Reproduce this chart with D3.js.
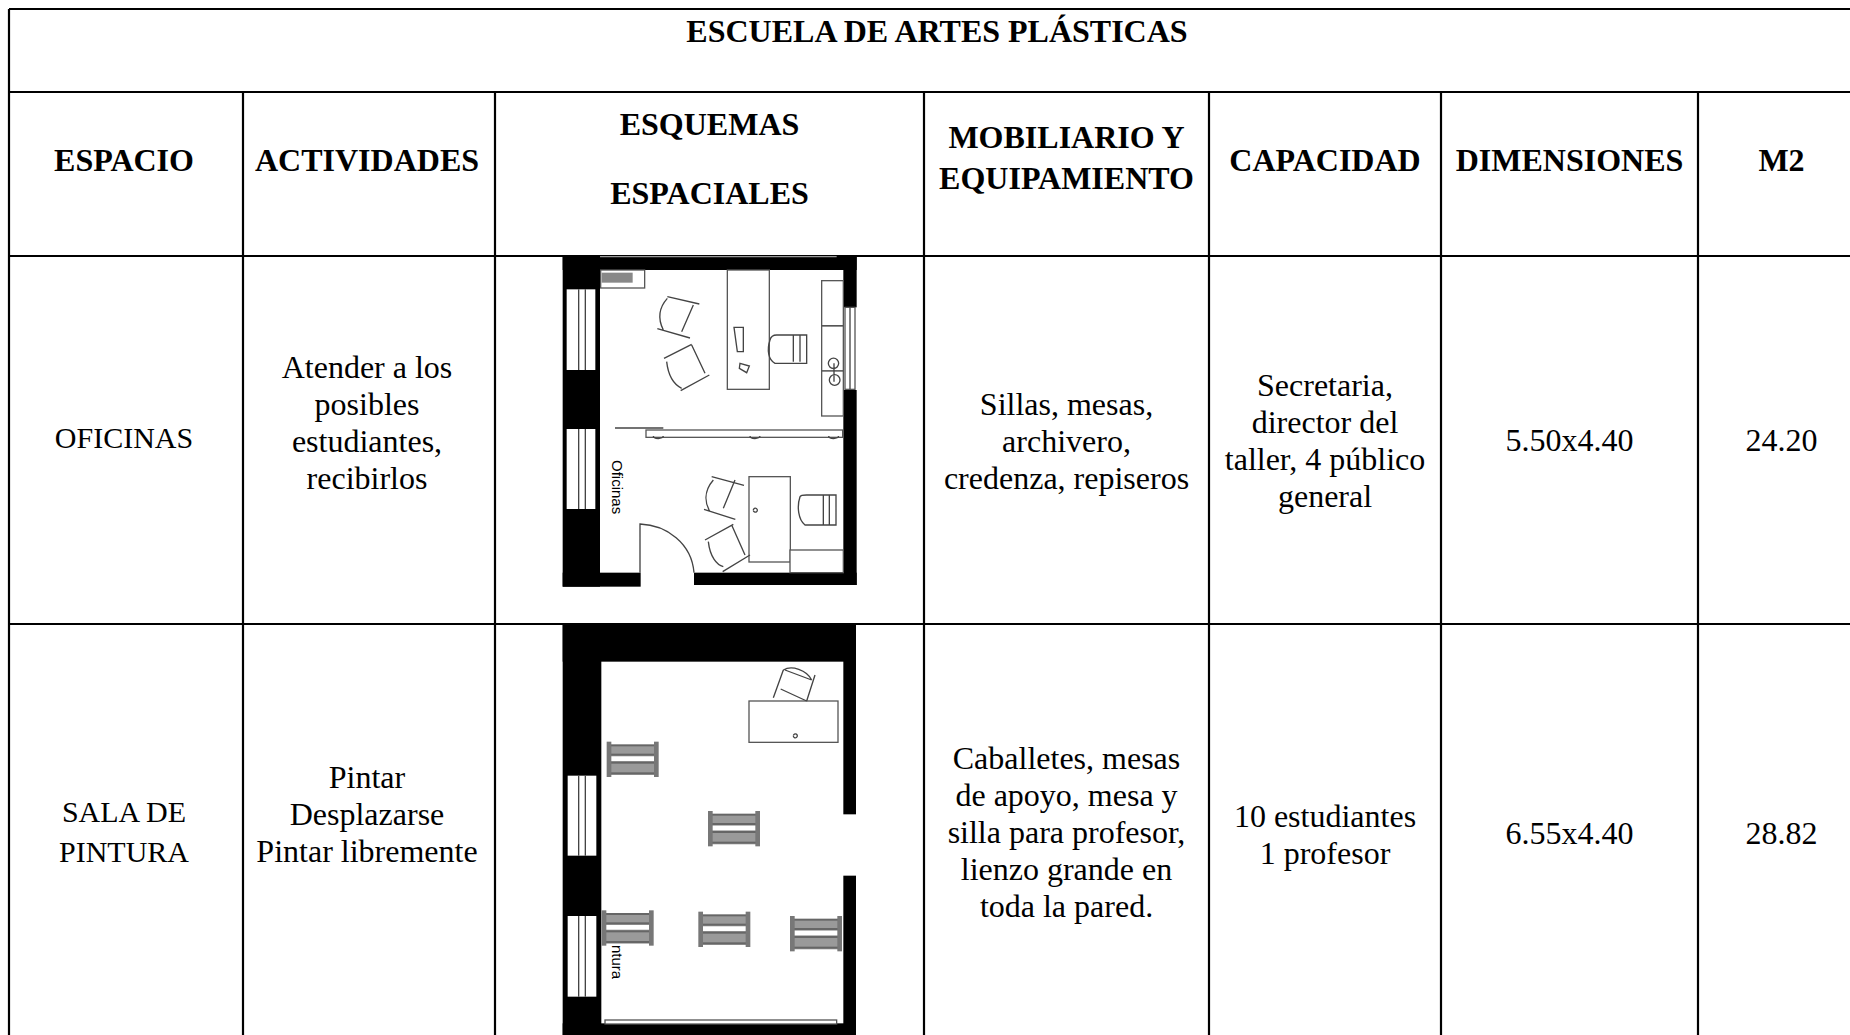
<!DOCTYPE html>
<html><head><meta charset="utf-8"><script src="https://cdn.jsdelivr.net/npm/d3@7"></script>
<style>html,body{margin:0;background:#fff;overflow:hidden}svg{display:block}text{font-family:"Liberation Serif",serif;fill:#000}</style></head>
<body><svg id="c" width="1850" height="1035"></svg>
<script>
const columnEdges=[9,243,495,924,1209,1441,1698,1865];
const rowEdges=[9,92,256,624,1040];
const title="ESCUELA DE ARTES PLÁSTICAS";
const headers=[["ESPACIO"],["ACTIVIDADES"],["ESQUEMAS","ESPACIALES"],["MOBILIARIO Y","EQUIPAMIENTO"],["CAPACIDAD"],["DIMENSIONES"],["M2"]];
const rowOne=[["OFICINAS"],["Atender a los","posibles","estudiantes,","recibirlos"],[],["Sillas, mesas,","archivero,","credenza, repiseros"],["Secretaria,","director del","taller, 4 público","general"],["5.50x4.40"],["24.20"]];
const rowTwo=[["SALA DE","PINTURA"],["Pintar","Desplazarse","Pintar libremente"],[],["Caballetes, mesas","de apoyo, mesa y","silla para profesor,","lienzo grande en","toda la pared."],["10 estudiantes","1 profesor"],["6.55x4.40"],["28.82"]];
const headerCenters=[160,160,159,158,160,160,160], headerGaps=[0,0,69,41,0,0,0];
const rowOneCenters=[438,423,441,441,441,440,440], rowTwoCenters=[832,814.5,832,832,834.5,833,833];
const bodySizes=[30,32,0,32,32,32,32], columnShift=[-2,-2,0,0,0,0,0];
// plan drawings, in plan units
const planOneSolid=[[38,18,882,42],[38,18,112,992],[880,18,40,154],[880,420,40,585],[38,968,234,42],[432,968,488,37]];
const planOneWindows=[[50,118,86,242],[50,537,86,240]];
const planOneBoxes=[[152,60,132,54],[532,60,126,358],[815,92,65,135],[815,228,65,135],[815,363,65,135],[597,680,124,256],[720,900,160,68],[288,540,590,22],[885,172,30,246]];
const planOneLines=["M86 118V360M106 118V360","M86 537V777M106 537V777","M195 534H340","M270 968V822C350 825 425 880 432 968","M900 172V418",
"M430 165L395 245M352 140L448 162M322 236L420 264M352 145C325 175 325 210 340 240","M425 285L465 370M342 325L425 283M392 422L478 375M350 335C355 380 375 405 395 415",
"M555 690L520 775M485 680L582 706M462 778L556 808M490 690C460 725 465 760 480 785","M545 825L585 915M465 870L550 823M518 965L600 915M475 875C480 920 500 945 520 950",
"M660 270C650 300 655 330 675 340H770V255H680C670 255 662 262 660 270M730 255V335M750 255V335","M750 740C740 770 745 810 765 825H858V735H770C760 735 752 735 750 740M820 735V825M838 735V825",
"M552 232H580V305H562Z","M570 340L598 348L590 368L568 355Z","M835 340A15 15 0 1 1 866 340A15 15 0 1 1 835 340M838 390A16 16 0 1 1 870 390A16 16 0 1 1 838 390M852 340V395",
"M310 558A14 7 0 1 0 340 558M600 558A14 7 0 1 0 630 558M836 558A14 7 0 1 0 866 558","M610 780A6 6 0 1 1 610 781"];
const planOneThin=["M150 20H860"];
const planTwoSolid=[[38,28,880,112],[38,28,116,1232],[880,28,38,570],[880,782,38,478],[38,1225,880,35]];
const planTwoWindows=[[53,482,86,240],[53,903,86,242]];
const planTwoBoxes=[[597,258,267,124],[165,1215,695,12]];
const easels=[[170,380],[474,588],[155,886],[445,890],[720,903]];
const easelBars=[[5,8,145,6],[5,36,145,6],[5,60,145,6],[5,92,145,6]];
const planTwoLines=["M86 482V722M106 482V722","M86 903V1145M106 903V1145","M700 165L670 248M795 180L770 258M692 222L770 258M705 165L785 195M700 165C725 150 770 165 785 195","M730 362A6 6 0 1 1 730 363"];

const svg=d3.select("#c");
function block(g,lines,cx,cy,size,weight,gap){
 g.selectAll(null).data(lines).join("text").attr("x",cx).attr("y",(d,i)=>cy+(i-(lines.length-1)/2)*gap+size*0.33)
  .attr("text-anchor","middle").attr("font-size",size).attr("font-weight",weight).text(d=>d);
}
const gl=svg.append("g").attr("stroke","#000").attr("stroke-width",2.2);
gl.selectAll("line.v").data(columnEdges).join("line").attr("class","v").attr("x1",d=>d).attr("x2",d=>d).attr("y1",(d,i)=>i==0?9:92).attr("y2",1035);
gl.selectAll("line.h").data(rowEdges.slice(0,4)).join("line").attr("class","h").attr("x1",9).attr("x2",1850).attr("y1",d=>d).attr("y2",d=>d);
function rects(p,data,X,Y,fill,stroke){
 return p.selectAll(null).data(data).join("rect").attr("x",d=>X(d[0])).attr("y",d=>Y(d[1])).attr("width",d=>X(d[0]+d[2])-X(d[0])).attr("height",d=>Y(d[1]+d[3])-Y(d[1])).attr("fill",fill).attr("stroke",stroke||"none").attr("stroke-width",1.3);
}
function plan(sx,sy,solid,wins,boxes,lines){
 const X=d3.scaleLinear().domain([0,3]).range([sx,sx+1]), Y=d3.scaleLinear().domain([0,3]).range([sy,sy+1]);
 const p=svg.append("g");
 rects(p,solid,X,Y,"#000");
 rects(p,wins,X,Y,"#fff");
 rects(p,boxes,X,Y,"#fff","#555");
 const t=`translate(${sx},${sy}) scale(${1/3})`;
 p.selectAll(null).data(lines).join("path").attr("transform",t).attr("d",d=>d).attr("fill","none").attr("stroke","#444").attr("stroke-width",4);
 return {p,t,X,Y};
}
const a=plan(550,250,planOneSolid,planOneWindows,planOneBoxes,planOneLines);
a.p.selectAll(null).data(planOneThin).join("path").attr("transform",a.t).attr("d",d=>d).attr("stroke","#999").attr("stroke-width",4);
a.p.append("rect").attr("x",a.X(155)).attr("y",a.Y(68)).attr("width",31).attr("height",10).attr("fill","#888");
a.p.append("text").attr("transform",`translate(${a.X(186)},${a.Y(630)}) rotate(90)`).attr("font-size",15).style("font-family","Liberation Sans").text("Oficinas");
const b=plan(550,615,planTwoSolid,planTwoWindows,planTwoBoxes,planTwoLines);
const e=b.p.selectAll(null).data(easels).join("g").attr("transform",d=>`translate(${b.X(d[0])},${b.Y(d[1])}) scale(${1/3})`);
e.append("rect").attr("x",5).attr("y",10).attr("width",145).attr("height",90).attr("fill","#9a9a9a");
e.append("rect").attr("x",5).attr("y",44).attr("width",145).attr("height",14).attr("fill","#fff");
e.selectAll(null).data(easelBars).join("rect").attr("x",d=>d[0]).attr("y",d=>d[1]).attr("width",d=>d[2]).attr("height",d=>d[3]).attr("fill","#666");
e.append("rect").attr("x",0).attr("y",0).attr("width",14).attr("height",106).attr("fill","#777");
e.append("rect").attr("x",142).attr("y",0).attr("width",14).attr("height",106).attr("fill","#777");
b.p.append("text").attr("transform",`translate(${b.X(186)},${b.Y(990)}) rotate(90)`).attr("font-size",15).style("font-family","Liberation Sans").text("ntura");
block(svg.append("g"),[title],(columnEdges[0]+columnEdges[7])/2,31,32,"bold",0);
d3.range(7).forEach(i=>{
 const cx=(columnEdges[i]+columnEdges[i+1])/2+columnShift[i];
 block(svg.append("g"),headers[i],cx,headerCenters[i],32,"bold",headerGaps[i]);
 block(svg.append("g"),rowOne[i],cx,rowOneCenters[i],bodySizes[i],"normal",37);
 block(svg.append("g"),rowTwo[i],cx,rowTwoCenters[i],bodySizes[i],"normal",i==0?40:37);
});
</script></body></html>
